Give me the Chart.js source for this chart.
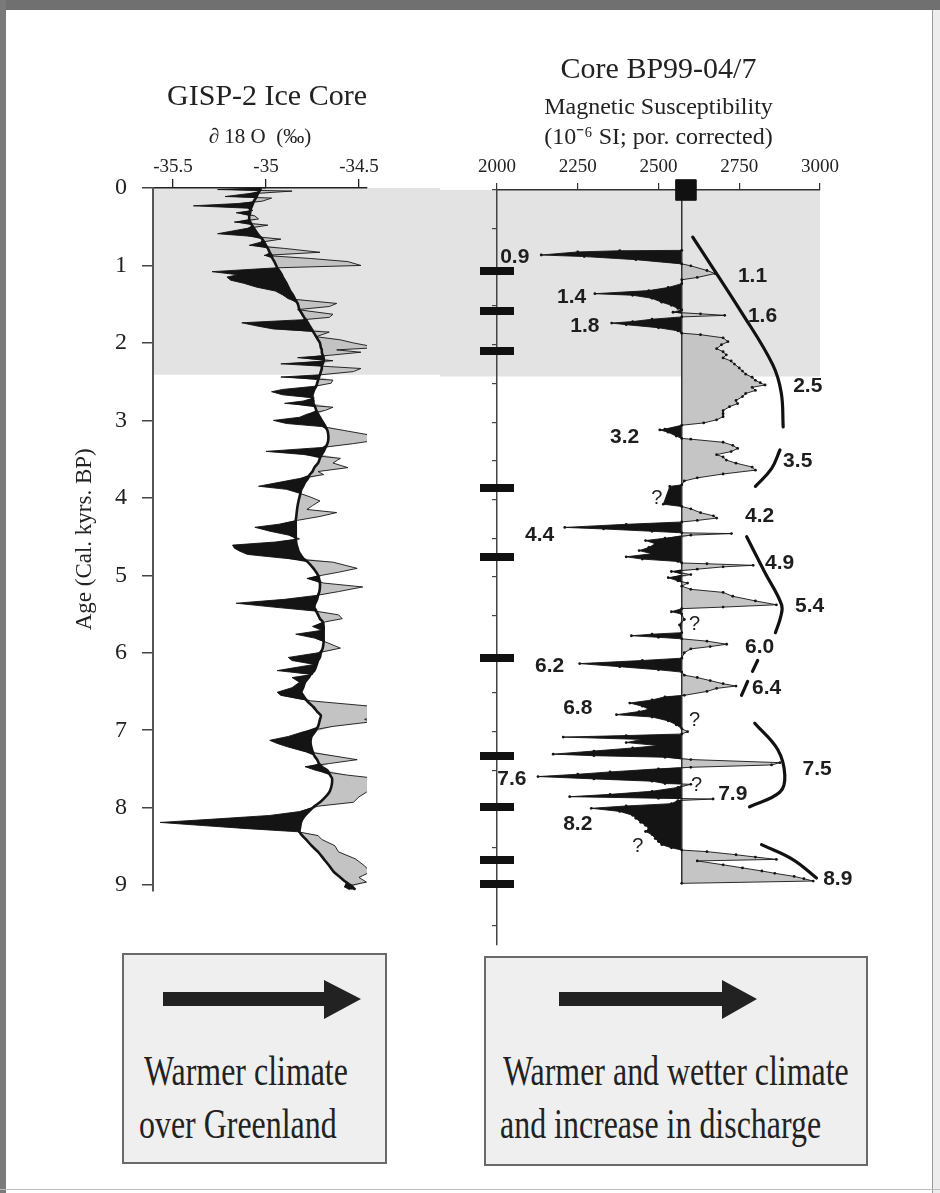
<!DOCTYPE html>
<html><head><meta charset="utf-8">
<script src="https://cdn.jsdelivr.net/npm/chart.js@4/dist/chart.umd.min.js"></script>
<style>
html,body{margin:0;padding:0;background:#fff;}
#page{position:relative;width:940px;height:1193px;overflow:hidden;background:#fff;font-family:"Liberation Serif",serif;color:#222;}
#topbar{position:absolute;left:0;top:0;width:940px;height:10px;background:#707070;}
#leftbar{position:absolute;left:0;top:0;width:6px;height:1193px;background:#7a7a7a;}
#rightline{position:absolute;left:932px;top:10px;width:1px;height:1183px;background:#9a9a9a;}
#rightstrip{position:absolute;left:933px;top:10px;width:7px;height:1183px;background:#ededed;}
#bottomline{position:absolute;left:0;top:1189px;width:940px;height:1px;background:#bdbdbd;}
canvas{position:absolute;}
#cL{left:0;top:0;}
#cR{left:440px;top:0;}
.box{position:absolute;background:#efefef;border:2px solid #6a6a6a;box-sizing:border-box;}
.box svg{position:absolute;left:0;top:0;}
.box .txt{position:absolute;font-size:42px;line-height:42px;color:#222;transform:scaleX(0.76);transform-origin:left top;white-space:nowrap;}
</style></head>
<body>
<div id="page">
  <div id="topbar"></div><div id="leftbar"></div><div id="rightline"></div><div id="rightstrip"></div><div id="bottomline"></div>
  <canvas id="cL" width="440" height="920"></canvas>
  <canvas id="cR" width="460" height="960"></canvas>
  <div class="box" style="left:122px;top:953px;width:265px;height:211px;">
    <svg width="261" height="207"><polygon points="39,37 200,37 200,25 237,44 200,64 200,51 39,51" fill="#222"/></svg>
    <div class="txt" style="left:20px;top:95px;">Warmer climate</div>
    <div class="txt" style="left:15px;top:148px;">over Greenland</div>
  </div>
  <div class="box" style="left:484px;top:956px;width:384px;height:210px;">
    <svg width="380" height="206"><polygon points="73,34 236,34 236,22 271,41 236,61 236,48 73,48" fill="#222"/></svg>
    <div class="txt" style="left:17px;top:92px;">Warmer and wetter climate</div>
    <div class="txt" style="left:14px;top:145px;">and increase in discharge</div>
  </div>
</div>
<script>
// ---------------- DATA ----------------
// GISP-2 ice core: age (cal. kyr BP), delta18O (permil) and its smoothed trend
const gispAge = [
 0.00,0.02,0.04,0.08,0.11,0.13,0.17,0.20,0.23,0.26,
 0.29,0.32,0.36,0.40,0.44,0.48,0.52,0.59,0.62,0.66,
 0.70,0.74,0.78,0.83,0.87,0.91,0.95,1.00,1.03,1.08,
 1.12,1.15,1.19,1.23,1.28,1.33,1.38,1.43,1.49,1.53,
 1.57,1.63,1.67,1.70,1.74,1.78,1.82,1.86,1.92,1.96,
 2.00,2.06,2.09,2.12,2.16,2.19,2.23,2.27,2.30,2.33,
 2.37,2.41,2.44,2.48,2.52,2.56,2.60,2.63,2.67,2.71,
 2.75,2.78,2.83,2.87,2.92,2.96,3.00,3.04,3.08,3.13,
 3.19,3.25,3.30,3.35,3.40,3.44,3.49,3.55,3.61,3.66,
 3.70,3.75,3.80,3.85,3.89,3.94,3.99,4.04,4.10,4.15,
 4.19,4.24,4.29,4.34,4.38,4.43,4.48,4.53,4.57,4.61,
 4.65,4.69,4.73,4.78,4.83,4.91,4.96,5.00,5.04,5.10,
 5.15,5.21,5.26,5.31,5.36,5.41,5.46,5.51,5.56,5.60,
 5.66,5.71,5.76,5.81,5.86,5.94,6.00,6.06,6.10,6.15,
 6.23,6.28,6.32,6.38,6.45,6.51,6.55,6.62,6.70,6.76,
 6.81,6.86,6.89,6.95,7.02,7.08,7.13,7.17,7.21,7.27,
 7.33,7.38,7.43,7.47,7.52,7.58,7.62,7.68,7.74,7.80,
 7.86,7.93,7.98,8.05,8.10,8.15,8.19,8.23,8.27,8.31,
 8.36,8.41,8.49,8.57,8.66,8.75,8.83,8.90,8.96,9.02,9.06];
const gispD18O = [
 -35.00,-35.26,-34.86,-35.12,-35.22,-34.97,-35.02,-35.15,-35.39,-35.10,
 -35.07,-35.16,-35.06,-35.04,-35.17,-34.99,-35.10,-35.26,-35.10,-34.92,
 -35.03,-35.09,-34.90,-34.71,-35.01,-34.76,-34.56,-34.49,-34.94,-35.29,
 -35.15,-35.21,-35.19,-35.12,-35.05,-34.95,-34.91,-34.88,-34.62,-34.66,
 -34.83,-34.64,-34.66,-34.80,-35.13,-35.05,-34.96,-34.66,-34.73,-34.60,
 -34.53,-34.40,-34.62,-34.49,-34.66,-34.83,-34.64,-34.92,-34.70,-34.49,
 -34.53,-34.70,-34.92,-34.64,-34.65,-34.74,-34.91,-34.97,-34.91,-34.74,
 -34.80,-34.90,-34.64,-34.68,-34.78,-34.82,-34.96,-34.89,-34.70,-34.58,
 -34.44,-34.39,-34.53,-34.70,-35.00,-34.80,-34.60,-34.64,-34.56,-34.72,
 -34.69,-34.82,-34.93,-35.04,-34.89,-34.82,-34.76,-34.71,-34.75,-34.78,
 -34.62,-34.71,-34.83,-34.93,-35.06,-34.98,-34.88,-34.82,-34.95,-35.18,
 -35.17,-35.14,-35.10,-34.90,-34.64,-34.51,-34.61,-34.70,-34.78,-34.69,
 -34.48,-34.61,-34.73,-34.90,-35.16,-34.96,-34.74,-34.61,-34.59,-34.68,
 -34.75,-34.70,-34.84,-34.74,-34.68,-34.60,-34.72,-34.88,-34.86,-34.74,
 -34.94,-34.75,-34.86,-34.82,-34.86,-34.94,-34.92,-34.76,-34.39,-34.45,
 -34.39,-34.47,-34.43,-34.64,-34.80,-34.88,-34.98,-34.94,-34.89,-34.80,
 -34.64,-34.51,-34.66,-34.79,-34.73,-34.56,-34.41,-34.39,-34.42,-34.46,
 -34.50,-34.53,-34.72,-34.82,-34.98,-35.30,-35.57,-35.34,-35.10,-34.83,
 -34.72,-34.70,-34.63,-34.61,-34.52,-34.47,-34.44,-34.50,-34.46,-34.58,-34.55];
const gispTrend = [
 -35.03,-35.03,-35.035,-35.045,-35.05,-35.055,-35.065,-35.07,-35.075,-35.08,
 -35.085,-35.085,-35.09,-35.09,-35.085,-35.075,-35.065,-35.045,-35.035,-35.02,
 -35.01,-35.00,-34.99,-34.98,-34.97,-34.965,-34.955,-34.945,-34.94,-34.925,
 -34.915,-34.91,-34.90,-34.89,-34.88,-34.87,-34.855,-34.845,-34.83,-34.825,
 -34.82,-34.805,-34.795,-34.785,-34.775,-34.765,-34.755,-34.745,-34.73,-34.72,
 -34.71,-34.705,-34.70,-34.70,-34.695,-34.69,-34.69,-34.695,-34.70,-34.70,
 -34.705,-34.71,-34.715,-34.72,-34.725,-34.73,-34.74,-34.745,-34.75,-34.75,
 -34.745,-34.745,-34.735,-34.73,-34.72,-34.71,-34.70,-34.69,-34.68,-34.67,
 -34.665,-34.665,-34.67,-34.68,-34.69,-34.70,-34.71,-34.72,-34.74,-34.75,
 -34.765,-34.775,-34.79,-34.80,-34.81,-34.815,-34.82,-34.825,-34.83,-34.833,
 -34.835,-34.837,-34.84,-34.84,-34.84,-34.84,-34.84,-34.84,-34.838,-34.835,
 -34.83,-34.825,-34.815,-34.80,-34.775,-34.745,-34.73,-34.72,-34.715,-34.71,
 -34.71,-34.713,-34.72,-34.725,-34.735,-34.74,-34.73,-34.72,-34.71,-34.695,
 -34.69,-34.69,-34.69,-34.69,-34.69,-34.695,-34.705,-34.71,-34.72,-34.727,
 -34.74,-34.76,-34.77,-34.79,-34.80,-34.81,-34.80,-34.78,-34.745,-34.725,
 -34.705,-34.71,-34.713,-34.72,-34.737,-34.755,-34.76,-34.76,-34.757,-34.75,
 -34.74,-34.725,-34.715,-34.70,-34.67,-34.655,-34.645,-34.645,-34.65,-34.66,
 -34.68,-34.71,-34.74,-34.77,-34.79,-34.805,-34.812,-34.815,-34.818,-34.82,
 -34.805,-34.785,-34.755,-34.72,-34.69,-34.66,-34.635,-34.60,-34.57,-34.535,-34.52];

// Core BP99-04/7: age (cal. kyr BP) and magnetic susceptibility (1e-6 SI)
const magAge = [
 0.78,0.785,0.80,0.84,0.86,0.90,0.955,0.98,1.04,1.08,
 1.13,1.16,1.21,1.26,1.30,1.34,1.36,1.40,1.45,1.49,
 1.53,1.55,1.58,1.60,1.62,1.64,1.67,1.70,1.72,1.74,
 1.78,1.82,1.85,1.87,1.91,1.96,2.00,2.05,2.09,2.13,
 2.17,2.21,2.25,2.30,2.34,2.38,2.42,2.46,2.49,2.52,
 2.55,2.59,2.63,2.67,2.72,2.76,2.80,2.85,2.89,2.93,
 2.97,3.01,3.04,3.09,3.10,3.13,3.18,3.21,3.22,3.26,
 3.30,3.34,3.38,3.42,3.45,3.49,3.53,3.58,3.62,3.67,
 3.72,3.76,3.81,3.83,4.06,4.09,4.12,4.17,4.21,4.24,
 4.27,4.29,4.32,4.36,4.38,4.41,4.43,4.44,4.46,4.50,
 4.53,4.57,4.62,4.66,4.70,4.74,4.77,4.80,4.82,4.83,
 4.85,4.87,4.90,4.93,4.97,5.01,5.05,5.08,5.12,5.16,
 5.20,5.25,5.31,5.36,5.39,5.41,5.45,5.48,5.55,5.62,
 5.72,5.74,5.76,5.78,5.80,5.83,5.87,5.90,5.93,5.98,
 6.05,6.08,6.12,6.16,6.20,6.23,6.27,6.30,6.34,6.38,
 6.41,6.44,6.48,6.53,6.55,6.59,6.63,6.67,6.71,6.74,
 6.78,6.81,6.86,6.91,6.96,7.00,7.03,7.05,7.07,7.10,
 7.14,7.18,7.21,7.25,7.29,7.31,7.33,7.36,7.40,7.43,
 7.46,7.48,7.52,7.55,7.58,7.61,7.64,7.67,7.68,7.72,
 7.77,7.81,7.84,7.86,7.87,7.89,7.93,7.96,7.99,8.03,
 8.08,8.12,8.17,8.21,8.25,8.29,8.33,8.38,8.42,8.46,
 8.50,8.53,8.55,8.59,8.62,8.65,8.67,8.72,8.76,8.80,
 8.83,8.87,8.90,8.93,8.96];
const magSus = [
 2572,2380,2250,2137,2270,2430,2572,2600,2650,2675,
 2620,2572,2572,2530,2470,2303,2420,2480,2510,2540,
 2560,2572,2545,2630,2705,2572,2480,2420,2355,2400,
 2500,2560,2572,2630,2700,2715,2695,2680,2700,2710,
 2700,2725,2735,2750,2760,2770,2790,2800,2815,2830,
 2790,2800,2770,2760,2740,2745,2720,2700,2700,2700,
 2680,2640,2572,2520,2504,2530,2555,2572,2600,2700,
 2730,2745,2725,2680,2700,2710,2740,2790,2800,2700,
 2620,2580,2572,2535,2515,2572,2600,2630,2670,2680,
 2620,2572,2400,2210,2330,2480,2572,2726,2600,2520,
 2460,2490,2470,2440,2480,2400,2450,2560,2572,2650,
 2793,2700,2620,2540,2600,2530,2560,2590,2572,2600,
 2700,2730,2800,2865,2700,2572,2540,2572,2580,2565,
 2572,2480,2416,2500,2572,2650,2711,2660,2600,2580,
 2572,2450,2256,2380,2500,2572,2580,2620,2660,2700,
 2740,2680,2650,2580,2520,2480,2411,2450,2470,2440,
 2370,2480,2530,2555,2572,2590,2572,2400,2205,2450,
 2400,2500,2420,2300,2174,2300,2520,2600,2876,2850,
 2600,2500,2350,2250,2127,2300,2480,2520,2600,2560,
 2480,2350,2225,2500,2669,2560,2540,2400,2292,2380,
 2420,2430,2445,2460,2470,2460,2480,2490,2500,2510,
 2540,2572,2650,2740,2800,2865,2620,2700,2760,2820,
 2860,2920,2950,2979,2572];
const magBaseline = 2572;      // reference level of the susceptibility record
const magCoreTopValue = 2585;  // black square marker at the core top
const datingAges = [1.05, 1.57, 2.08, 3.85, 4.74, 6.05, 7.32, 7.97, 8.66, 8.97];
const highlightAges = [0, 2.41];

// hand-drawn trend brackets (susceptibility, age)
const bracketSus = [
 [2606, 2760, 2854, 2880, 2886],
 [2876, 2850, 2800],
 [2773, 2829, 2881, 2878, 2862],
 [2807, 2791],
 [2776, 2757],
 [2798, 2869, 2891, 2876, 2782],
 [2819, 2915, 2989]];
const bracketAge = [
 [0.61, 1.60, 2.26, 2.62, 3.06],
 [3.36, 3.60, 3.83],
 [4.48, 4.94, 5.36, 5.52, 5.72],
 [6.08, 6.22],
 [6.35, 6.53],
 [6.89, 7.23, 7.56, 7.78, 7.97],
 [8.46, 8.65, 8.89]];

// event labels (text, susceptibility, age)
const labelText = ['0.9','1.1','1.4','1.6','1.8','2.5','3.2','3.5','?','4.2','4.4','4.9','5.4','?','6.0','6.2','6.4','6.8','?','7.5','7.6','?','7.9','8.2','?','8.9'];
const labelSus  = [2055,2791,2231,2822,2272,2962,2395,2931,2495,2813,2132,2875,2968,2612,2813,2163,2835,2250,2612,2991,2046,2618,2730,2250,2436,3055];
const labelAge  = [0.87,1.11,1.38,1.63,1.76,2.53,3.19,3.51,3.99,4.21,4.46,4.82,5.38,5.61,5.91,6.16,6.44,6.70,6.86,7.49,7.61,7.69,7.81,8.20,8.48,8.90];

// tick labels
const gispTicks = [-35.5, -35, -34.5];
const ageTicks = [0,1,2,3,4,5,6,7,8,9];
const magTicks = [2000, 2250, 2500, 2750, 3000];

// ---------------- CHARTS ----------------
Chart.defaults.font.family = '"Liberation Serif", "Times New Roman", serif';
Chart.defaults.color = '#222';

const bandPlugin = {
  id: 'ageBand',
  beforeDraw(chart, args, opts) {
    const {ctx, chartArea, scales} = chart;
    const y0 = scales.y.getPixelForValue(highlightAges[0]);
    const y1 = scales.y.getPixelForValue(highlightAges[1]);
    const xl = opts.side === 'left' ? chartArea.left : 0;
    const xr = opts.side === 'left' ? chart.width : scales.x.getPixelForValue(scales.x.max);
    ctx.save();
    ctx.fillStyle = '#e3e3e3';
    ctx.fillRect(xl, y0, xr - xl, y1 - y0);
    ctx.restore();
  }
};

const labelPlugin = {
  id: 'eventLabels',
  afterDatasetsDraw(chart) {
    const {ctx, scales} = chart;
    ctx.save();
    ctx.fillStyle = '#1e1e1e';
    ctx.textAlign = 'center';
    ctx.textBaseline = 'middle';
    labelText.forEach((t, i) => {
      ctx.font = t === '?' ? '20px "Liberation Sans", Arial, sans-serif' : 'bold 21px "Liberation Sans", Arial, sans-serif';
      ctx.fillText(t, scales.x.getPixelForValue(labelSus[i]), scales.y.getPixelForValue(labelAge[i]));
    });
    ctx.restore();
  }
};

// ---- left: GISP-2 ----
const gispPts = gispAge.map((a, i) => ({x: gispD18O[i], y: a}));
const gispTrendPts = gispAge.map((a, i) => ({x: gispTrend[i], y: a}));
const gispLowPts = gispAge.map((a, i) => ({x: Math.min(gispD18O[i], gispTrend[i]), y: a}));
const gispHighPts = gispAge.map((a, i) => ({x: Math.max(gispD18O[i], gispTrend[i]), y: a}));

new Chart(document.getElementById('cL'), {
  type: 'line',
  data: {datasets: [
    {label: 'colder', data: gispLowPts, fill: 2, backgroundColor: '#141414', borderWidth: 0, borderColor: 'rgba(0,0,0,0)', pointRadius: 0, order: 4},
    {label: 'warmer', data: gispHighPts, fill: 2, backgroundColor: '#c3c3c3', borderWidth: 0, borderColor: 'rgba(0,0,0,0)', pointRadius: 0, order: 3},
    {label: 'trend', data: gispTrendPts, fill: false, borderColor: '#141414', borderWidth: 2.6, pointRadius: 0, tension: 0.3, order: 1},
    {label: 'd18O', data: gispPts, fill: false, borderColor: '#141414', borderWidth: 0.9, pointRadius: 0, order: 2}
  ]},
  options: {
    indexAxis: 'y', responsive: false, animation: false, devicePixelRatio: 1,
    layout: {padding: {top: 79, left: 71.4, right: 73, bottom: 22.8}},
    plugins: {
      legend: {display: false}, tooltip: {enabled: false},
      title: {display: true, text: 'GISP-2 Ice Core', fullSize: false, align: 'end', color: '#222',
              font: {size: 30, weight: 'normal'}, padding: {top: 0, bottom: 10}},
      ageBand: {side: 'left'}
    },
    scales: {
      x: {type: 'linear', position: 'top', min: -35.6075, max: -34.457,
          afterBuildTicks: s => { s.ticks = gispTicks.map(v => ({value: v})); },
          ticks: {font: {size: 19}, padding: 1, maxRotation: 0, callback: v => String(v)},
          grid: {drawOnChartArea: false, tickLength: 9, color: '#222', lineWidth: 1.3},
          border: {color: '#222', width: 1.5},
          title: {display: true, text: '\u2202 18 O  (\u2030)', font: {size: 21}, padding: {top: 0, bottom: 4}}},
      y: {type: 'linear', position: 'left', reverse: true, min: 0, max: 9.07,
          afterBuildTicks: s => { s.ticks = ageTicks.map(v => ({value: v})); },
          ticks: {font: {size: 24}, padding: 15},
          grid: {drawOnChartArea: false, tickLength: 11, color: '#444', lineWidth: 1.5},
          border: {color: '#555', width: 2},
          title: {display: true, text: 'Age (Cal. kyrs. BP)', font: {size: 23}, padding: {top: 0, bottom: 1}}}
    }
  },
  plugins: [bandPlugin]
});

// ---- right: BP99-04/7 ----
const magPts = magAge.map((a, i) => ({x: magSus[i], y: a}));
const magLowPts = magAge.map((a, i) => ({x: Math.min(magSus[i], magBaseline), y: a}));
const magHighPts = magAge.map((a, i) => ({x: Math.max(magSus[i], magBaseline), y: a}));

const barMark = document.createElement('canvas');
barMark.width = 34; barMark.height = 8;
const bctx = barMark.getContext('2d');
bctx.fillStyle = '#111'; bctx.fillRect(0, 0, 34, 8);

const bracketSets = bracketSus.map((arr, k) => ({
  label: 'bracket' + k,
  data: arr.map((v, i) => ({x: v, y: bracketAge[k][i]})),
  fill: false, borderColor: '#111', borderWidth: 3.2, borderCapStyle: 'round',
  pointRadius: 0, tension: 0.4, order: 2, clip: false
}));

new Chart(document.getElementById('cR'), {
  type: 'line',
  data: {datasets: [
    {label: 'low', data: magLowPts, fill: {value: magBaseline}, backgroundColor: '#141414', borderWidth: 0, borderColor: 'rgba(0,0,0,0)', pointRadius: 0, order: 6},
    {label: 'high', data: magHighPts, fill: {value: magBaseline}, backgroundColor: '#c5c5c5', borderWidth: 0, borderColor: 'rgba(0,0,0,0)', pointRadius: 0, order: 5},
    {label: 'baseline', data: [{x: magBaseline, y: 0}, {x: magBaseline, y: magAge[magAge.length - 1]}], fill: false, borderColor: '#333', borderWidth: 1.5, pointRadius: 0, order: 4},
    {label: 'MS', data: magPts, fill: false, borderColor: '#141414', borderWidth: 0.9, pointRadius: 1.4, pointBorderWidth: 0, pointBackgroundColor: '#141414', order: 3},
    ...bracketSets,
    {label: 'dates', data: datingAges.map(a => ({x: magTicks[0], y: a})), showLine: false, pointStyle: barMark, pointRadius: 5, clip: false, order: 1},
    {label: 'top', data: [{x: magCoreTopValue, y: 0}], showLine: false, pointStyle: 'rect', pointRadius: 14.5, pointBackgroundColor: '#111', pointBorderColor: '#111', clip: false, order: 0}
  ]},
  options: {
    indexAxis: 'y', responsive: false, animation: false, devicePixelRatio: 1,
    layout: {padding: {top: 52, left: 52, right: 80, bottom: 5.6}},
    plugins: {
      legend: {display: false}, tooltip: {enabled: false},
      title: {display: true, text: 'Core BP99-04/7', fullSize: false, color: '#222',
              font: {size: 30, weight: 'normal'}, padding: {top: 0, bottom: 5.4}},
      subtitle: {display: true, text: 'Magnetic Susceptibility', fullSize: false, color: '#222',
              font: {size: 24, weight: 'normal'}, padding: {top: 0, bottom: 4}},
      ageBand: {side: 'right'}
    },
    scales: {
      x: {type: 'linear', position: 'top', min: 2000, max: 3000,
          afterBuildTicks: s => { s.ticks = magTicks.map(v => ({value: v})); },
          ticks: {font: {size: 19}, padding: 5, maxRotation: 0, callback: v => String(v)},
          grid: {drawOnChartArea: false, tickLength: 7, color: '#333', lineWidth: 1.2},
          border: {color: '#333', width: 1.5},
          title: {display: true, text: '(10\u207B\u2076 SI; por. corrected)', font: {size: 24, lineHeight: 1}, padding: {top: 0, bottom: 0}}},
      y: {type: 'linear', position: 'left', reverse: true, min: 0, max: 9.75,
          ticks: {display: false, stepSize: 0.5, includeBounds: false},
          grid: {drawOnChartArea: false, tickLength: 5, color: '#444', lineWidth: 1.2},
          border: {color: '#444', width: 1.5}}
    }
  },
  plugins: [bandPlugin, labelPlugin]
});
</script>
</body></html>
